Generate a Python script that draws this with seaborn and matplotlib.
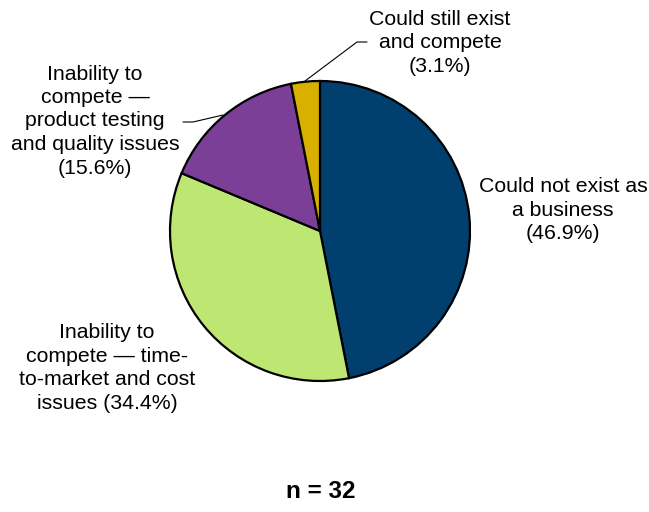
import matplotlib
matplotlib.use("Agg")
import matplotlib.pyplot as plt
import seaborn as sns

categories = ["Could not exist as\na business\n(46.9%)",
              "Inability to\ncompete \u2014 time-\nto-market and cost\nissues (34.4%)",
              "Inability to\ncompete \u2014\nproduct testing\nand quality issues\n(15.6%)",
              "Could still exist\nand compete\n(3.1%)"]
values = [46.9, 34.4, 15.6, 3.1]
colors = ["#003F6E", "#BDE672", "#7B3F98", "#D9B000"]
note = "n = 32"

sns.set_theme(style="white")
plt.rcParams['font.family'] = ['Liberation Sans', 'DejaVu Sans']

W, H = 649, 512
fig = plt.figure(figsize=(W / 100, H / 100), dpi=100)
ax = fig.add_axes([0, 0, 1, 1])

cx, cy, r = 320, H - 231, 150
ax.pie(values, colors=sns.color_palette(colors), startangle=90, counterclock=False,
       center=(cx, cy), radius=r, frame=True,
       wedgeprops=dict(edgecolor="black", linewidth=1.6))
ax.set_xlim(0, W)
ax.set_ylim(0, H)
ax.set_aspect('equal')
ax.axis('off')

label_pos = [(563, H - 210), (107, H - 368), (95, H - 121), (440, H - 43)]
for txt, (x, y) in zip(categories, label_pos):
    ax.text(x, y, txt, ha='center', va='center', fontsize=15.3, linespacing=1.3,
            color='black')

# leader lines
ax.plot([305, 357, 367], [H - 81, H - 42, H - 42], color='black', lw=0.8)
ax.plot([223, 193, 183], [H - 115, H - 122, H - 122], color='black', lw=0.8)

ax.text(321, H - 492, note, ha='center', va='center', fontsize=17.5,
        fontweight='bold', color='black')

fig.savefig("out.png", dpi=100)
